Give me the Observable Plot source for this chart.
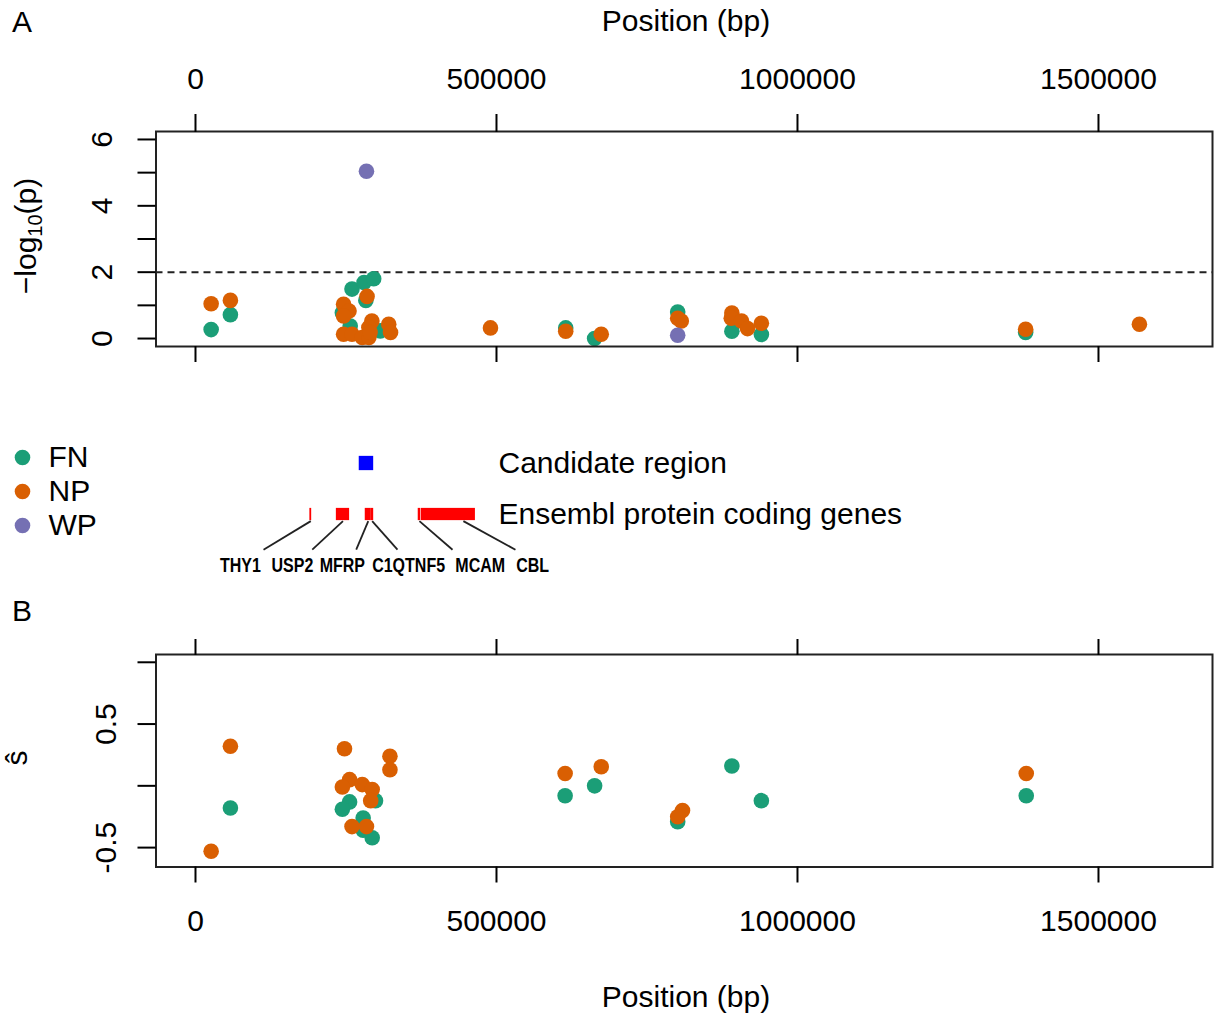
<!DOCTYPE html>
<html><head><meta charset="utf-8">
<script src="https://cdn.jsdelivr.net/npm/d3@7"></script>
<script src="https://cdn.jsdelivr.net/npm/@observablehq/plot@0.6"></script>
<style>
body{margin:0;background:#fff;}
#fig{position:relative;width:1216px;height:1019px;overflow:hidden;font-family:"Liberation Sans",Arial,sans-serif;color:#000;background:#fff;}
#fig > * {position:absolute;}
.lab{font-size:30px;line-height:1;white-space:nowrap;}
.lab sub{font-size:20px;vertical-align:baseline;position:relative;top:6px;}
</style></head><body><div id="fig"></div>
<script>
// ---------- data ----------
const groups = ["FN", "NP", "WP"];
const groupColors = ["#1b9e77", "#d95f02", "#7570b3"];
const xTicks = [0, 500000, 1000000, 1500000];
const aYTicks = [0, 1, 2, 3, 4, 5, 6];
const bYTicks = [-0.5, 0, 0.5, 1];
const threshold = 2;

// Panel A: -log10(p)
const aFnPos  = [26000, 58000, 244000, 257000, 260000, 280000, 296000, 283000, 307000, 615000, 663000, 801000, 891000, 940000, 1379000];
const aFnLogP = [0.27, 0.72, 0.78, 0.38, 1.49, 1.69, 1.80, 1.15, 0.23, 0.32, 0.00, 0.80, 0.22, 0.12, 0.18];
const aNpPos  = [26000, 58000, 285000, 246000, 255000, 246000, 293000, 288000, 321000, 324000, 246000, 260000, 277000, 288000, 290000, 490000, 615000, 674000, 801000, 807000, 891000, 890000, 907000, 917000, 940000, 1379000, 1568000];
const aNpLogP = [1.05, 1.15, 1.27, 1.03, 0.83, 0.68, 0.53, 0.33, 0.43, 0.18, 0.13, 0.13, 0.03, 0.03, 0.18, 0.32, 0.22, 0.13, 0.61, 0.53, 0.77, 0.61, 0.53, 0.30, 0.46, 0.28, 0.43];
const aWpPos  = [284000, 801000];
const aWpLogP = [5.04, 0.10];

// Panel B: s-hat
const bFnPos = [58000, 299000, 256000, 244000, 278500, 278500, 293500, 614000, 663000, 801000, 891000, 940000, 1380000];
const bFnS   = [-0.18, -0.12, -0.13, -0.19, -0.26, -0.36, -0.42, -0.08, 0.00, -0.29, 0.16, -0.12, -0.08];
const bNpPos = [58000, 26000, 247500, 323000, 323000, 256000, 244000, 277000, 293500, 291000, 260000, 284000, 614000, 674000, 809000, 801000, 1380000];
const bNpS   = [0.32, -0.53, 0.30, 0.24, 0.13, 0.05, -0.01, 0.01, -0.03, -0.12, -0.33, -0.33, 0.10, 0.155, -0.20, -0.25, 0.10];

// Gene track
const trackNames = ["Candidate region", "Ensembl protein coding genes"];
const candidate = [272000, 296000];
const genes     = ["THY1", "USP2", "MFRP", "C1QTNF5", "MCAM", "CBL"];
const geneStart = [190000, 234000, 282000, 291000, 370000, 375000];
const geneEnd   = [193000, 256000, 291000, 296000, 374000, 465000];
const linkFrom  = [191500, 245000, 287000, 293500, 372000, 445000];
const linkTo    = [113000, 194000, 267000, 335500, 427000, 531500];
const labelAt   = [74700, 161000, 244000, 354000, 473000, 560000];

// ---------- layout ----------
const FONT = '"Liberation Sans", Arial, sans-serif';
const xDomain = [-65600, 1689400];
const ML = 155.5, MR = 4;
const fig = document.getElementById("fig");
const rows = (pos, val, g) => pos.map((p, i) => ({pos: p, val: val[i], group: g}));
const dataA = [...rows(aFnPos, aFnLogP, "FN"), ...rows(aNpPos, aNpLogP, "NP"), ...rows(aWpPos, aWpLogP, "WP")];
const dataB = [...rows(bFnPos, bFnS, "FN"), ...rows(bNpPos, bNpS, "NP")];
const style = {background: "transparent", fontFamily: FONT, fontSize: "30px", color: "#000", overflow: "visible"};
const colorScale = {domain: groups, range: groupColors};
const fmtNum = d => String(d);

function place(el, left, top) { el.style.position = "absolute"; el.style.left = left + "px"; el.style.top = top + "px"; fig.appendChild(el); return el; }
function label(html, cx, cy, rotate) {
  const d = document.createElement("div");
  d.className = "lab"; d.innerHTML = html;
  d.style.transform = "translate(-50%,-50%)" + (rotate ? " rotate(-90deg)" : "");
  place(d, cx, cy);
}

const panelA = Plot.plot({
  width: 1216, height: 400,
  marginTop: 131, marginBottom: 54, marginLeft: ML, marginRight: MR,
  style,
  x: {domain: xDomain, label: null},
  y: {domain: [-0.24, 6.24], label: null},
  color: colorScale,
  marks: [
    Plot.ruleY([threshold], {stroke: "#222", strokeWidth: 2, strokeDasharray: "7,5"}),
    Plot.dot(dataA, {x: "pos", y: "val", fill: "group", r: 7.8}),
    Plot.frame({stroke: "#222", strokeWidth: 2}),
    Plot.axisX({anchor: "top", ticks: xTicks, tickSize: 18, tickPadding: 25, tickFormat: fmtNum, strokeWidth: 2, label: null}),
    Plot.axisX({anchor: "bottom", ticks: xTicks, tickSize: 16, tickFormat: () => "", strokeWidth: 2, label: null}),
    Plot.axisY({anchor: "left", ticks: aYTicks, tickSize: 18, tickPadding: 26, tickRotate: -90, tickFormat: d => d % 2 === 0 ? String(d) : "", strokeWidth: 2, label: null})
  ]
});
place(panelA, 0, 0);

const panelB = Plot.plot({
  width: 1216, height: 419,
  marginTop: 54, marginBottom: 152.5, marginLeft: ML, marginRight: MR,
  style,
  x: {domain: xDomain, label: null},
  y: {domain: [-0.657, 1.063], label: null},
  color: colorScale,
  marks: [
    Plot.dot(dataB, {x: "pos", y: "val", fill: "group", r: 7.8}),
    Plot.frame({stroke: "#222", strokeWidth: 2}),
    Plot.axisX({anchor: "top", ticks: xTicks, tickSize: 16, tickFormat: () => "", strokeWidth: 2, label: null}),
    Plot.axisX({anchor: "bottom", ticks: xTicks, tickSize: 16, tickPadding: 27, tickFormat: fmtNum, strokeWidth: 2, label: null}),
    Plot.axisY({anchor: "left", ticks: bYTicks, tickSize: 18, tickPadding: 22, tickRotate: -90, tickFormat: d => Math.abs(d) === 0.5 ? String(d).replace("\u2212", "-") : "", strokeWidth: 2, label: null})
  ]
});
place(panelB, 0, 600);

const track = Plot.plot({
  width: 1216, height: 160,
  marginTop: 0, marginBottom: 0, marginLeft: ML, marginRight: MR,
  style,
  x: {domain: xDomain, axis: null},
  y: {domain: [-0.49, 2.647], axis: null},
  marks: [
    Plot.rect([candidate], {x1: d => d[0], x2: d => d[1], y1: 1.86, y2: 2.14, fill: "#0000ff"}),
    Plot.rect(genes, {x1: (d, i) => geneStart[i], x2: (d, i) => geneEnd[i], y1: 0.88, y2: 1.12, fill: "#ff0000"}),
    Plot.link(genes, {x1: (d, i) => linkFrom[i], y1: 0.87, x2: (d, i) => linkTo[i], y2: 0.31, stroke: "#222", strokeWidth: 1.8}),
    Plot.text(genes, {x: (d, i) => labelAt[i], y: 0, text: d => d, fontSize: 20, fontWeight: "bold"}),
    Plot.text(trackNames, {x: 503300, y: (d, i) => 2 - i, text: d => d, textAnchor: "start", fontSize: 30})
  ]
});
place(track, 0, 430);
// condense gene labels horizontally (narrow bold look)
d3.select(track).selectAll("text")
  .filter(function() { return genes.includes(this.textContent); })
  .each(function() {
    const w = this.getComputedTextLength();
    this.setAttribute("textLength", (w * 0.8).toFixed(1));
    this.setAttribute("lengthAdjust", "spacingAndGlyphs");
  });

const legend = Plot.plot({
  width: 150, height: 120,
  marginTop: 0, marginBottom: 0, marginRight: 0, marginLeft: 22,
  style,
  y: {type: "point", domain: groups, range: [27, 95], padding: 0, axis: null},
  color: colorScale,
  marks: [
    Plot.dot(groups, {y: d => d, fill: d => d, r: 7.8, frameAnchor: "left"}),
    Plot.text(groups, {y: d => d, text: d => d, frameAnchor: "left", dx: 26, textAnchor: "start", fontSize: 30})
  ]
});
place(legend, 0, 430);

label("A", 22, 21.5);
label("B", 22, 611);
label("Position (bp)", 686, 21);
label("Position (bp)", 686, 997);
label("\u2212log<sub>10</sub>(p)", 26, 236, true);
label("\u015D", 17, 758, true);
</script></body></html>
